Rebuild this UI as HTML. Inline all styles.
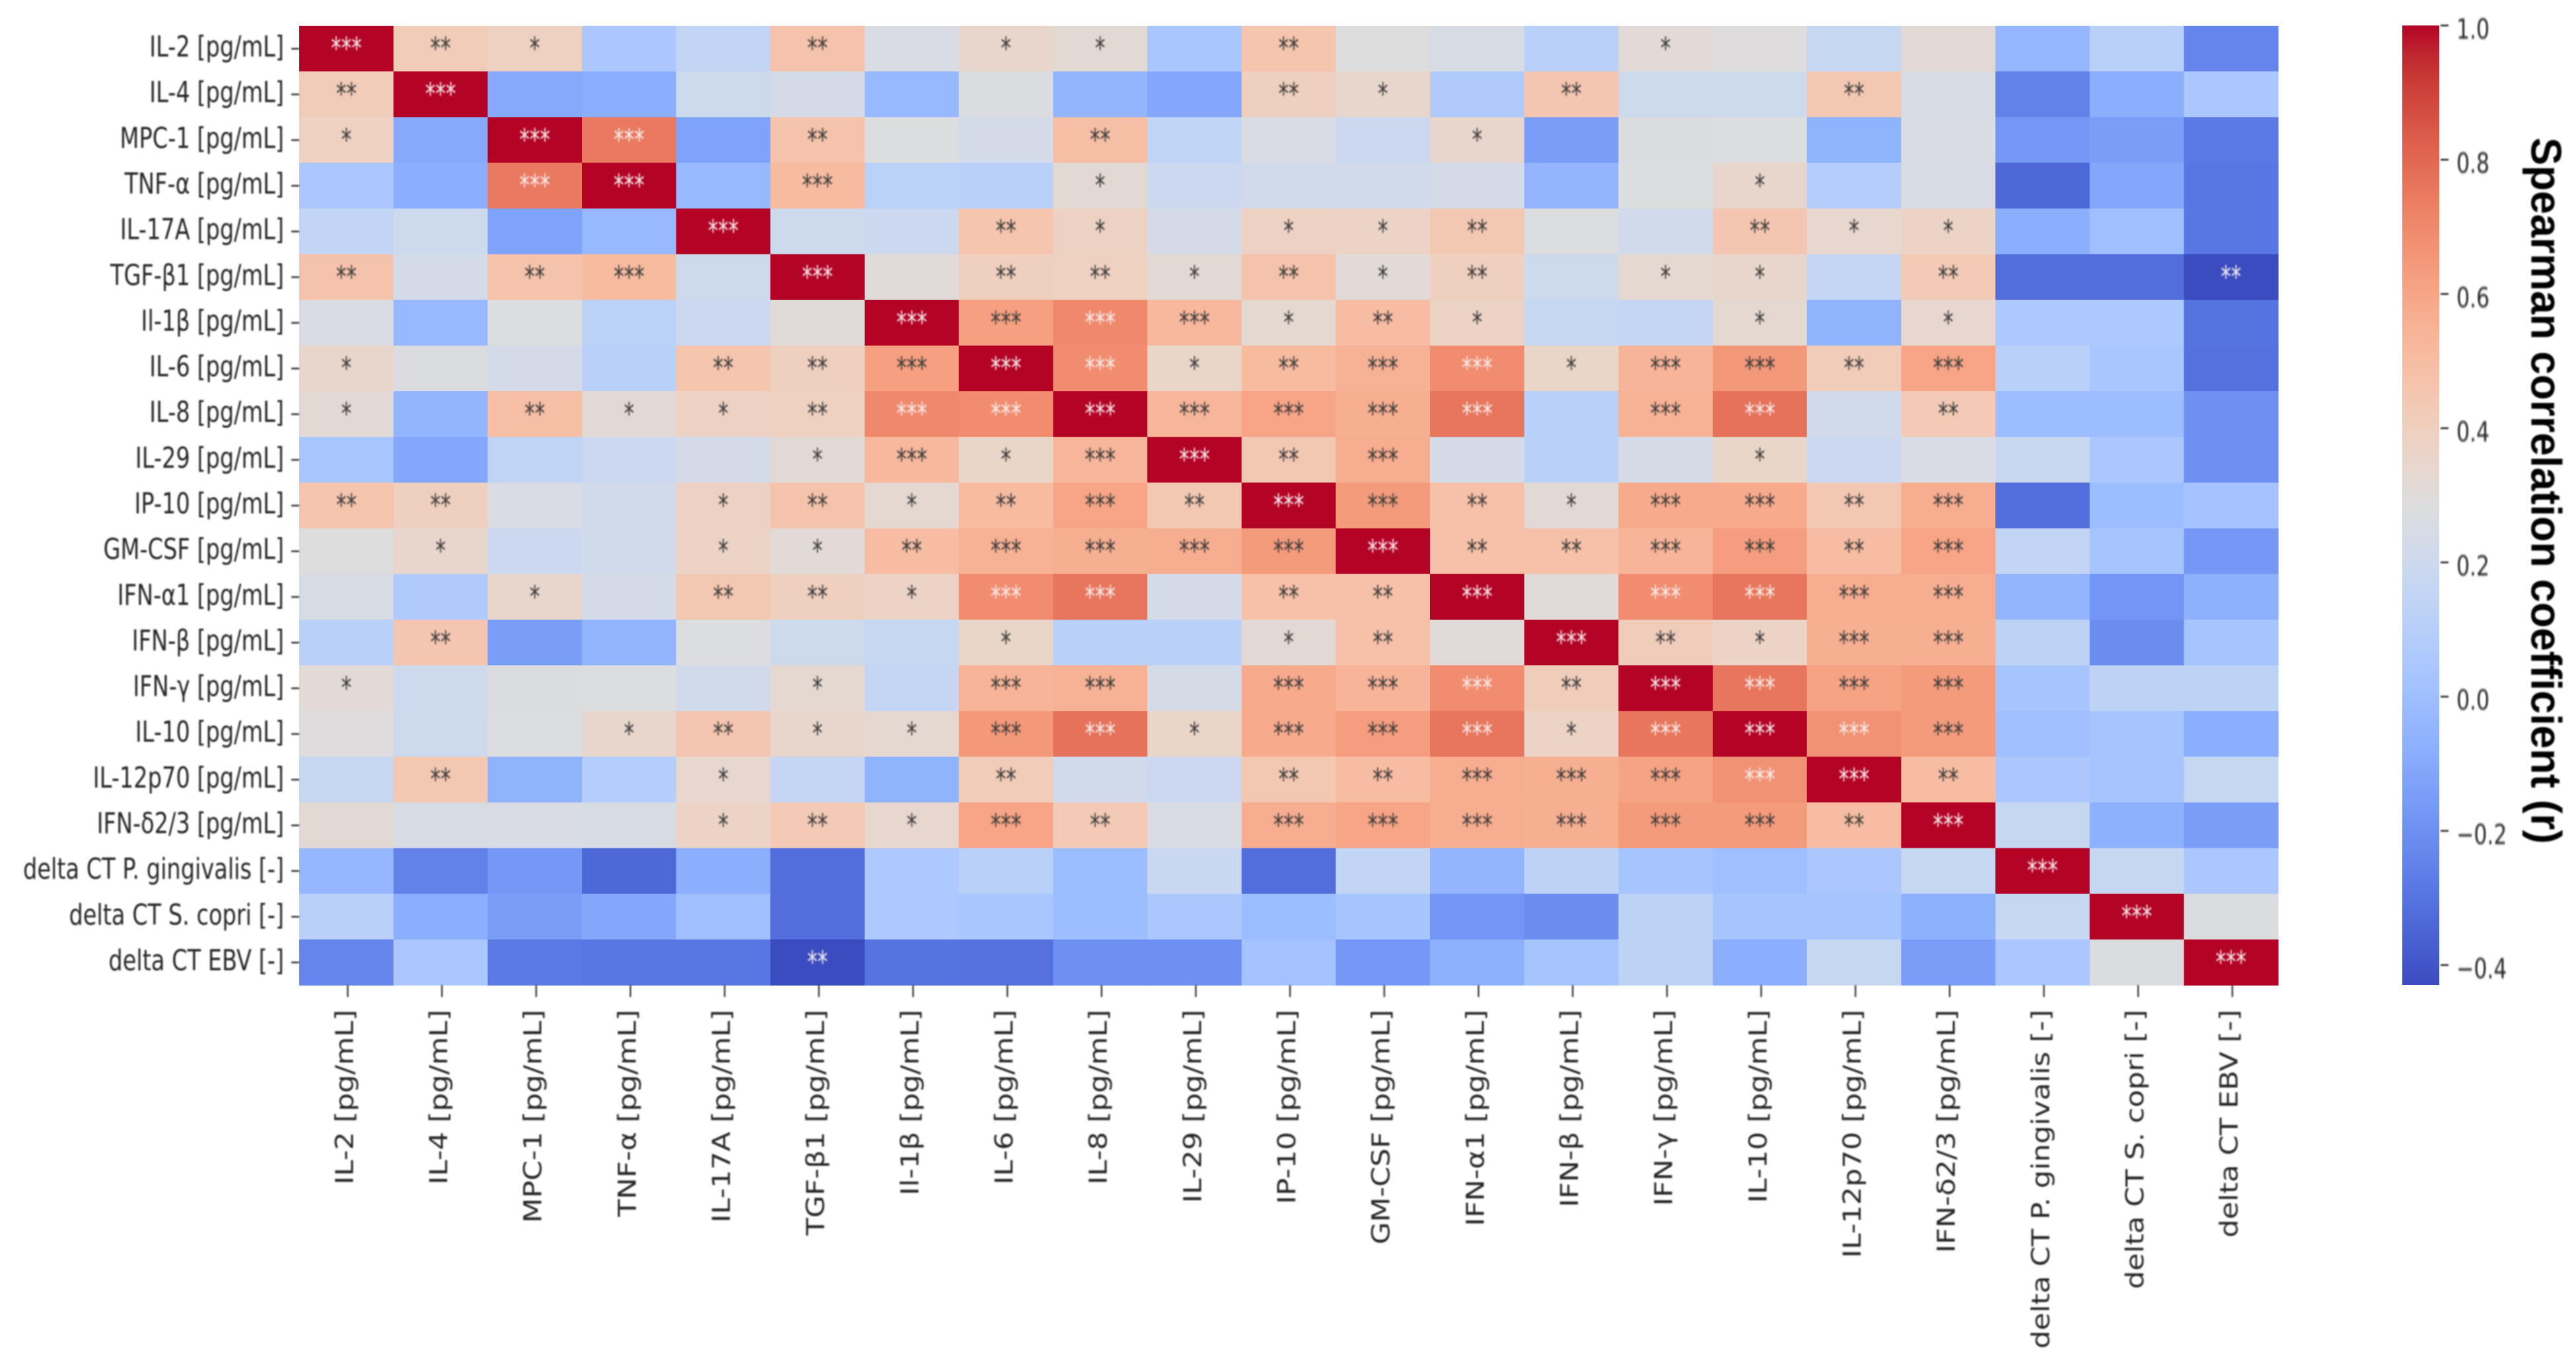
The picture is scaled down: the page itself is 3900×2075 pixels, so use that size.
<!DOCTYPE html>
<html lang="en">
<head>
<meta charset="utf-8">
<title>Spearman correlation heatmap</title>
<style>
  html, body { margin: 0; padding: 0; background: #fff; width: 3900px; height: 2075px; overflow: hidden; }
  svg { display: block; }
  text { font-family: "DejaVu Sans", "Liberation Sans", sans-serif; fill: #262626; }
  .soft { filter: blur(1.1px); }
  #colorbar-title { font-family: "Liberation Sans", sans-serif; font-weight: 700; fill: #000; }
</style>
</head>
<body>
<svg id="chart" xmlns="http://www.w3.org/2000/svg" width="3900" height="2075" viewBox="0 0 3900 2075">
  <rect x="0" y="0" width="3900" height="2075" fill="#ffffff"/>
  <defs>
    <linearGradient id="cbar-gradient" x1="0" y1="1" x2="0" y2="0"></linearGradient>
  </defs>
  <g id="cells"></g>
  <g id="stars" class="soft"></g>
  <g id="y-axis" class="soft"></g>
  <g id="x-axis" class="soft"></g>
  <g id="colorbar"></g>
  <g class="soft">
    <text id="colorbar-title" transform="translate(3832.5,208) rotate(90) scale(1,1.03)" font-size="63.3">Spearman correlation coefficient (r)</text>
  </g>
</svg>
<script>
const categories = [
  "IL-2 [pg/mL]", "IL-4 [pg/mL]", "MPC-1 [pg/mL]", "TNF-α [pg/mL]", "IL-17A [pg/mL]",
  "TGF-β1 [pg/mL]", "Il-1β [pg/mL]", "IL-6 [pg/mL]", "IL-8 [pg/mL]", "IL-29 [pg/mL]",
  "IP-10 [pg/mL]", "GM-CSF [pg/mL]", "IFN-α1 [pg/mL]", "IFN-β [pg/mL]", "IFN-γ [pg/mL]",
  "IL-10 [pg/mL]", "IL-12p70 [pg/mL]", "IFN-δ2/3 [pg/mL]",
  "delta CT P. gingivalis [-]", "delta CT S. copri [-]", "delta CT EBV [-]"
];

// Upper triangle of the symmetric Spearman matrix: row i holds columns i..20.
const spearmanUpper = [
  [1,.42,.39,.05,.15,.47,.26,.35,.32,.04,.46,.285,.25,.11,.31,.29,.17,.32,-.04,.11,-.24],
  [1,-.1,-.08,.2,.23,-.03,.27,-.05,-.11,.4,.35,.07,.45,.2,.2,.44,.25,-.25,-.08,.05],
  [1,.75,-.13,.47,.28,.23,.49,.14,.26,.19,.35,-.15,.27,.28,-.06,.26,-.17,-.15,-.28],
  [1,-.03,.51,.12,.11,.32,.19,.22,.22,.23,-.05,.28,.35,.09,.25,-.34,-.11,-.29],
  [1,.2,.19,.46,.38,.23,.38,.37,.44,.28,.22,.45,.34,.37,-.08,0,-.29],
  [1,.3,.4,.39,.32,.47,.31,.4,.2,.33,.35,.16,.43,-.32,-.32,-.43],
  [1,.62,.7,.52,.33,.5,.37,.17,.16,.33,-.06,.34,.06,.06,-.3],
  [1,.69,.36,.51,.55,.69,.36,.54,.65,.42,.6,.11,.04,-.31],
  [1,.53,.6,.56,.76,.11,.55,.77,.22,.43,-.01,-.01,-.2],
  [1,.44,.57,.23,.11,.24,.36,.19,.26,.18,.05,-.2],
  [1,.64,.48,.32,.58,.58,.44,.57,-.32,-.01,.02],
  [1,.48,.48,.54,.63,.5,.6,.15,.03,-.17],
  [1,.3,.69,.76,.57,.57,-.05,-.18,-.07],
  [1,.41,.37,.56,.56,.13,-.21,.03],
  [1,.76,.61,.64,.03,.13,.13],
  [1,.67,.64,0,.03,-.08],
  [1,.5,.05,.03,.17],
  [1,.17,-.07,-.15],
  [1,.17,.05],
  [1,.27],
  [1]
];

// Number of significance stars, same triangular layout as spearmanUpper.
const starCounts = [
  "321002011020001000000",
  "30000000021020020000",
  "3302002000100000000",
  "303001000000100000",
  "30021011200211000",
  "3022121201102002",
  "333312100101000",
  "33123313323000",
  "3333303302000",
  "323000100000",
  "33213323000",
  "3223323000",
  "303333000",
  "32133000",
  "3333000",
  "333000",
  "32000",
  "3000",
  "300",
  "30",
  "3"
];

const colorbarTicks = [1.0, 0.8, 0.6, 0.4, 0.2, 0.0, -0.2, -0.4];
const colorbarTickLabels = ["1.0", "0.8", "0.6", "0.4", "0.2", "0.0", "−0.2", "−0.4"];

const vmin = -0.43;
const vmax = 1.0;

// coolwarm colormap lookup
const coolwarm = [[59,76,192],[68,90,204],[77,104,215],[87,117,225],[98,130,234],[108,142,241],[119,154,247],[130,165,251],[141,176,254],[152,185,255],[163,194,255],[174,201,253],[184,208,249],[194,213,244],[204,217,238],[213,219,230],[221,221,221],[229,216,209],[236,211,197],[241,204,185],[245,196,173],[247,187,160],[247,177,148],[247,166,135],[244,154,123],[241,141,111],[236,127,99],[229,112,88],[222,96,77],[213,80,66],[203,62,56],[192,40,47],[180,4,38]];

const SVG_NS = "http://www.w3.org/2000/svg";
const heatLeft = 453, heatTop = 39, heatWidth = 2996, heatHeight = 1452;
const cbLeft = 3637, cbWidth = 56, cbTop = 38.5, cbBottom = 1491;

function colorFor(r) {
  const t = Math.max(0, Math.min(1, (r - vmin) / (vmax - vmin)));
  const p = t * (coolwarm.length - 1);
  const i = Math.min(coolwarm.length - 2, Math.floor(p));
  const f = p - i;
  const a = coolwarm[i], b = coolwarm[i + 1];
  return "rgb(" + [0, 1, 2].map(k => Math.round(a[k] + (b[k] - a[k]) * f)).join(",") + ")";
}
function xScale(i) { return heatLeft + i * heatWidth / categories.length; }
function yScale(i) { return heatTop + i * heatHeight / categories.length; }
function cbScale(r) { return cbBottom - (r - vmin) / (vmax - vmin) * (cbBottom - cbTop); }
function valueAt(i, j) {
  const lo = Math.min(i, j), hi = Math.max(i, j);
  return spearmanUpper[lo][hi - lo];
}
function starsAt(i, j) {
  const lo = Math.min(i, j), hi = Math.max(i, j);
  return Number(starCounts[lo][hi - lo]);
}
function make(tag, attrs, parent) {
  const el = document.createElementNS(SVG_NS, tag);
  for (const k in attrs) el.setAttribute(k, attrs[k]);
  parent.appendChild(el);
  return el;
}

const cellsG = document.getElementById("cells");
const starsG = document.getElementById("stars");
const yAxisG = document.getElementById("y-axis");
const xAxisG = document.getElementById("x-axis");
const cbG = document.getElementById("colorbar");
const cellW = heatWidth / categories.length;
const cellH = heatHeight / categories.length;

categories.forEach((rowName, i) => {
  categories.forEach((colName, j) => {
    const r = valueAt(i, j);
    const cell = make("rect", {
      x: xScale(j), y: yScale(i), width: cellW + 0.6, height: cellH + 0.6, fill: colorFor(r)
    }, cellsG);
    
    
    const n = starsAt(i, j);
    if (n > 0) {
      const white = r > 0.66 || r < -0.4;
      const star = make("text", {
        transform: "translate(" + (xScale(j) + cellW / 2) + "," + (yScale(i) + cellH / 2 + 16) + ") scale(1,1.48)",
        "text-anchor": "middle", "font-size": 31
      }, starsG);
      star.style.fill = white ? "#f6eeee" : "#3a3a3a";
      star.textContent = "*".repeat(n);
      
      
    }
  });
});

categories.forEach((name, i) => {
  const yc = yScale(i) + cellH / 2;
  const xc = xScale(i) + cellW / 2;

  const yTick = make("rect", { x: 441, y: yc - 1, width: 12, height: 2.4, fill: "#262626" }, yAxisG);
  
  
  const yLab = make("text", {
    transform: "translate(430," + (yc + 12) + ") scale(1,1.29)",
    "text-anchor": "end", "font-size": 33.6
  }, yAxisG);
  yLab.textContent = name;
  
  

  const xTick = make("rect", { x: xc + 1, y: heatTop + heatHeight, width: 2.2, height: 18, fill: "#262626" }, xAxisG);
  
  
  const xLab = make("text", {
    transform: "translate(" + (xc + 10) + ",1528) rotate(-90) scale(1.18,1)",
    "text-anchor": "end", "font-size": 37
  }, xAxisG);
  xLab.textContent = name;
  
  
});

const grad = document.getElementById("cbar-gradient");
coolwarm.forEach((c, i) => {
  make("stop", { offset: i / (coolwarm.length - 1), "stop-color": "rgb(" + c.join(",") + ")" }, grad);
});
const cbBar = make("rect", { x: cbLeft, y: cbTop, width: cbWidth, height: cbBottom - cbTop, fill: "url(#cbar-gradient)" }, cbG);


colorbarTicks.forEach((v, i) => {
  const y = cbScale(v);
  const tick = make("rect", { class: "soft", x: 3695, y: y - 1.2, width: 12, height: 2.6, fill: "#262626" }, cbG);
  
  
  const lab = make("text", {
    class: "soft",
    transform: "translate(3719," + (y + 20) + ") scale(1,1.33)",
    "font-size": 31.5
  }, cbG);
  lab.textContent = colorbarTickLabels[i];
  
  
});
</script>
</body>
</html>
